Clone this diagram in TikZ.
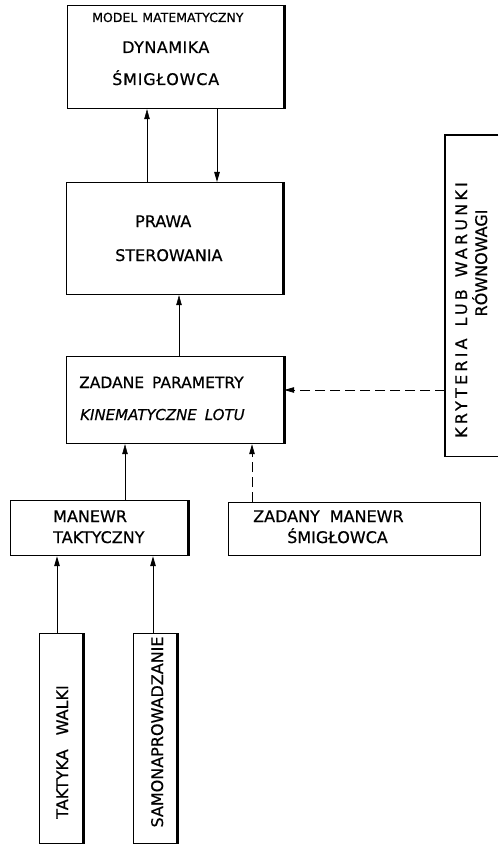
\documentclass[tikz,border=0pt]{standalone}
\usepackage{fontspec}
\setmainfont{DejaVu Sans}[FakeBold=0.5]
\usetikzlibrary{arrows.meta}
\begin{document}
\begin{tikzpicture}[x=1pt,y=-1pt,
  box/.style={draw, line width=1.2pt, inner sep=0pt, anchor=north west},
  heavy/.style={line width=2.6pt},
  lbl/.style={inner sep=0pt, font=\fontsize{16}{19}\selectfont},
  small/.style={inner sep=0pt, font=\fontsize{12.5}{15}\selectfont},
  conn/.style={-{Triangle[length=10pt,width=5.5pt]}},
  thinconn/.style={line width=0.5pt},
  medconn/.style={line width=1pt},
  dashconn/.style={line width=0.8pt, dash pattern=on 10pt off 5pt}
]
\useasboundingbox (0,0) rectangle (498,845);
\fill[white] (0,0) rectangle (498,845);

% boxes
\node[box, minimum width=216pt, minimum height=103pt] (model) at (67,5) {};
\node[box, minimum width=216pt, minimum height=112pt] (prawa) at (66,182) {};
\node[box, minimum width=217pt, minimum height=87pt] (zad) at (66,356) {};
\node[box, minimum width=177pt, minimum height=55pt] (mt) at (10,500) {};
\node[box, minimum width=252pt, minimum height=53pt] (zm) at (228,502) {};
\node[box, minimum width=43pt, minimum height=210pt] (tw) at (39,633) {};
\node[box, minimum width=43pt, minimum height=210pt] (sa) at (133,633) {};
\node[inner sep=0pt, minimum width=53pt, minimum height=321pt, anchor=north west] (kryt) at (445,135) {};
\draw[line width=1.2pt] (kryt.north east) -- (kryt.north west) -- (kryt.south west) -- (kryt.south east);

% heavier right edges
\foreach \b in {model,prawa,zad,mt,tw,sa}
  \draw[heavy] (\b.north east) -- (\b.south east);

% texts
\node[small, anchor=base west] (t1) at (92,22) {MODEL\hspace{5pt}MATEMATYCZNY};
\node[lbl, anchor=base west] (t2) at (122,53) {\addfontfeature{LetterSpace=3}DYNAMIKA};
\node[lbl, anchor=base west] (t3) at (112,85) {\addfontfeature{LetterSpace=5}ŚMIGŁOWCA};
\node[lbl, anchor=base west] (t4) at (135,227) {PRAWA};
\node[lbl, anchor=base west] (t5) at (115,261) {STEROWANIA};
\node[lbl, anchor=base west, font=\fontsize{15.5}{18}\selectfont] (t6) at (79,388) {ZADANE\hspace{8pt}PARAMETRY};
\node[lbl, anchor=base west, font=\fontsize{15}{18}\itshape] (t7) at (80,420) {KINEMATYCZNE\hspace{8pt}LOTU};
\node[lbl, anchor=base west] (t8) at (53,522) {MANEWR};
\node[lbl, anchor=base west] (t9) at (53,543) {TAKTYCZNY};
\node[lbl, anchor=base west] (t10) at (253,522) {ZADANY\hspace{10pt}MANEWR};
\node[lbl, anchor=base west] (t11) at (287,543) {ŚMIGŁOWCA};
\node[lbl, rotate=90, anchor=base] (t12) at (68,752) {TAKTYKA\hspace{14pt}WALKI};
\node[lbl, rotate=90, anchor=base] (t13) at (163,732) {SAMONAPROWADZANIE};
\node[lbl, rotate=90, anchor=base] (t14) at (467,310) {\addfontfeature{LetterSpace=20}KRYTERIA\hspace{12pt}LUB\hspace{12pt}WARUNKI};
\node[lbl, rotate=90, anchor=base] (t15) at (487,263) {RÓWNOWAGI};

% connector positions
\coordinate (x1) at (147,0);
\coordinate (x2) at (217,0);
\coordinate (x3) at (179,0);
\coordinate (x4) at (125,0);
\coordinate (x5) at (252,0);
\coordinate (x6) at (57,0);
\coordinate (x7) at (153,0);
\coordinate (y1) at (0,390);

% connectors
\draw[conn, thinconn] (prawa.north -| x1) -- (model.south -| x1);
\draw[conn, medconn] (model.south -| x2) -- (prawa.north -| x2);
\draw[conn, thinconn] (zad.north -| x3) -- (prawa.south -| x3);
\draw[conn, dashconn] (kryt.west |- y1) -- (zad.east |- y1);
\draw[conn, thinconn] (mt.north -| x4) -- (zad.south -| x4);
\draw[conn, dashconn] (zm.north -| x5) -- (zad.south -| x5);
\draw[conn, medconn] (tw.north -| x6) -- (mt.south -| x6);
\draw[conn, medconn] (sa.north -| x7) -- (mt.south -| x7);
\end{tikzpicture}
\end{document}
